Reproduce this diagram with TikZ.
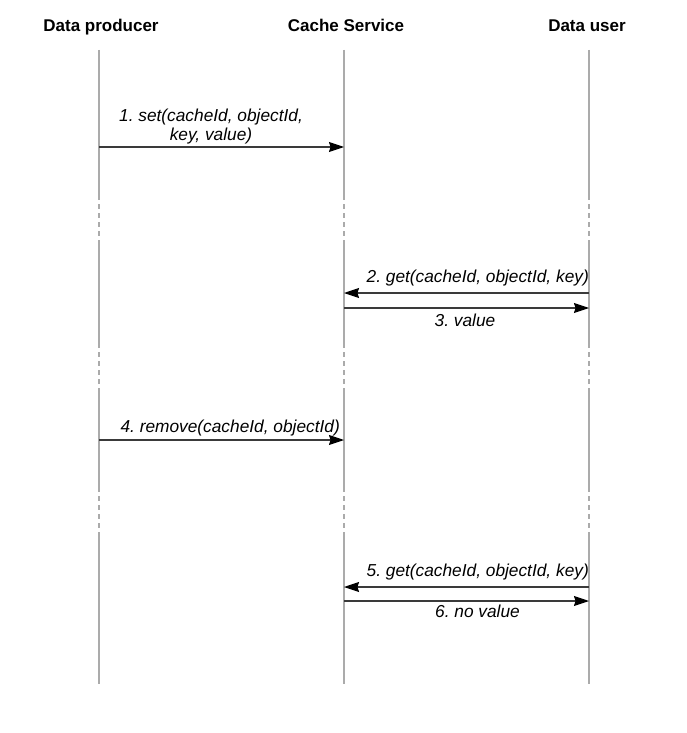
\documentclass[tikz,border=0pt]{standalone}
\usepackage{fontspec}
\setmainfont{Liberation Sans}
\usetikzlibrary{arrows.meta}
\definecolor{lifegray}{HTML}{ABABAB}
\definecolor{msgcol}{HTML}{3A3A3A}
\frenchspacing
\begin{document}
\begin{tikzpicture}[x=1pt,y=-1pt,
  hdr/.style={font=\fontsize{17}{19}\selectfont\bfseries, inner sep=0pt, anchor=base},
  lbl/.style={font=\fontsize{17.3}{19}\selectfont\itshape, inner sep=0pt, text=black},
  life/.style={draw=lifegray, line width=1.5pt},
  lifedash/.style={draw=lifegray, line width=1.5pt, dash pattern=on 5pt off 4pt},
  msg/.style={draw=msgcol, line width=1.1pt, -{Stealth[length=15pt,width=10pt,inset=1.5pt,color=black]}}]
\useasboundingbox (0,0) rectangle (687,733);
\fill[white] (0,0) rectangle (687,733);
% headers
\node[hdr] (hP) at (101,32) {Data producer};
\node[hdr] (hC) at (346,32) {Cache Service};
\node[hdr] (hU) at (587,32) {Data user};
% lifelines
\foreach \n/\x in {P/99,C/344,U/589}{
  \coordinate (\n0) at (\x,50);
  \coordinate (\n1) at (\x,195);
  \coordinate (\n2) at (\x,243);
  \coordinate (\n3) at (\x,343);
  \coordinate (\n4) at (\x,390);
  \coordinate (\n5) at (\x,487);
  \coordinate (\n6) at (\x,537);
  \coordinate (\n7) at (\x,684);
  \draw[life] (\n0) -- (\n1);
  \draw[lifedash] (\n1) -- (\n2);
  \draw[life] (\n2) -- (\n3);
  \draw[lifedash] (\n3) -- (\n4);
  \draw[life] (\n4) -- (\n5);
  \draw[lifedash] (\n5) -- (\n6);
  \draw[life] (\n6) -- (\n7);
}
% message endpoints
\coordinate (m1s) at (99,147);  \coordinate (m1e) at (344,147);
\coordinate (m2s) at (589,293); \coordinate (m2e) at (344,293);
\coordinate (m3s) at (344,308); \coordinate (m3e) at (589,308);
\coordinate (m4s) at (99,440);  \coordinate (m4e) at (344,440);
\coordinate (m5s) at (589,587); \coordinate (m5e) at (344,587);
\coordinate (m6s) at (344,601); \coordinate (m6e) at (589,601);
\draw[msg] (m1s) -- (m1e);
\draw[msg] (m2s) -- (m2e);
\draw[msg] (m3s) -- (m3e);
\draw[msg] (m4s) -- (m4e);
\draw[msg] (m5s) -- (m5e);
\draw[msg] (m6s) -- (m6e);
% labels
\node[lbl, align=center] (l1) at (211,127) {1. set(cacheId, objectId,\\key, value)};
\node[lbl, anchor=east] (l2) at (589,278) {2. get(cacheId, objectId, key)};
\node[lbl] (l3) at (465,320) {3. value};
\node[lbl, anchor=east] (l4) at (340,428) {4. remove(cacheId, objectId)};
\node[lbl, anchor=east] (l5) at (589,572) {5. get(cacheId, objectId, key)};
\node[lbl, anchor=west] (l6) at (435,611) {6. no value};
\end{tikzpicture}
\end{document}
